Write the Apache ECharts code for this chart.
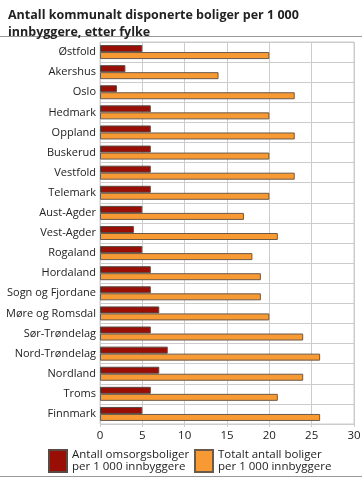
<!DOCTYPE html>
<html><head><meta charset="utf-8">
<script src="https://cdn.jsdelivr.net/npm/echarts@6/dist/echarts.min.js"></script>
<style>html,body{margin:0;padding:0;background:#fff}#c{width:362px;height:480px}</style>
</head><body><div id="c"></div>
<script>
const categories = ["Østfold","Akershus","Oslo","Hedmark","Oppland","Buskerud","Vestfold","Telemark","Aust-Agder","Vest-Agder","Rogaland","Hordaland","Sogn og Fjordane","Møre og Romsdal","Sør-Trøndelag","Nord-Trøndelag","Nordland","Troms","Finnmark"];
const omsorg = [5,3,2,6,6,6,6,6,5,4,5,6,6,7,6,8,7,6,5];
const totalt = [20,14,23,20,23,20,23,20,17,21,18,19,19,20,24,26,24,21,26];
const seriesNames = ["Antall omsorgsboliger\nper 1 000 innbyggere","Totalt antall boliger\nper 1 000 innbyggere"];
const xTicks = {min:0,max:30,interval:5};

const font = "'Open Sans', 'DejaVu Sans', sans-serif";
const chart = echarts.init(document.getElementById('c'));
chart.setOption({
  animation:false,
  textStyle:{fontFamily:font},
  title:{text:"Antall kommunalt disponerte boliger per 1 000\ninnbyggere, etter fylke",left:3,top:2,
    textStyle:{fontFamily:font,fontSize:12.5,fontWeight:'bold',color:'#222',lineHeight:17}},
  graphic:[
    {type:'line',shape:{x1:0,y1:36.5,x2:362,y2:36.5},style:{stroke:'#999',lineWidth:1}},
    {type:'line',shape:{x1:0,y1:476.5,x2:362,y2:476.5},style:{stroke:'#999',lineWidth:1}}
  ],
  grid:{left:100,right:8,top:42,bottom:56,show:true,borderColor:'#ccc',borderWidth:1,containLabel:false,outerBoundsMode:'none'},
  legend:[
    {data:[{name:seriesNames[0],icon:'rect'}],left:48,top:449,padding:0,itemWidth:18,itemHeight:22,itemGap:0,
      textStyle:{fontFamily:font,fontSize:11.5,color:'#222',lineHeight:12},selectedMode:false},
    {data:[{name:seriesNames[1],icon:'rect'}],left:194,top:449,padding:0,itemWidth:18,itemHeight:22,itemGap:0,
      textStyle:{fontFamily:font,fontSize:11.5,color:'#222',lineHeight:12},selectedMode:false}
  ],
  xAxis:{type:'value',min:xTicks.min,max:xTicks.max,interval:xTicks.interval,
    axisLine:{show:false},axisTick:{show:true,length:3,lineStyle:{color:'#ccc'}},
    splitLine:{lineStyle:{color:'#ccc'}},
    axisLabel:{fontFamily:font,fontSize:11.5,color:'#222',margin:6}},
  yAxis:{type:'category',data:categories,inverse:true,
    axisLine:{show:false},axisTick:{show:false},
    splitLine:{show:true,lineStyle:{color:'#ccc'}},
    axisLabel:{fontFamily:font,fontSize:11,color:'#222',margin:4}},
  series:[
    {name:seriesNames[0],type:'bar',data:omsorg,barWidth:7,barGap:'0%',
      itemStyle:{color:'#990f06',borderColor:'#5a4a44',borderWidth:1}},
    {name:seriesNames[1],type:'bar',data:totalt,barWidth:7,barGap:'0%',
      itemStyle:{color:'#f89a34',borderColor:'#6a5a4a',borderWidth:1}}
  ]
});
</script></body></html>
